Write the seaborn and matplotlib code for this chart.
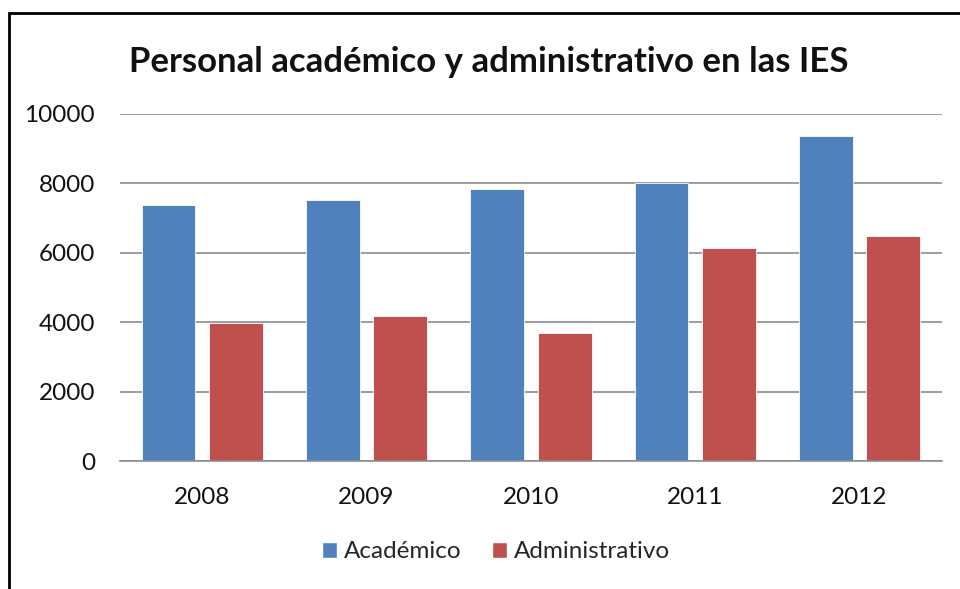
import numpy as np
import pandas as pd
import seaborn as sns
import matplotlib.pyplot as plt
from matplotlib.patches import Rectangle

years = ["2008", "2009", "2010", "2011", "2012"]
academico = [7380, 7530, 7830, 8010, 9370]
administrativo = [3970, 4180, 3700, 6140, 6480]
series = ["Académico", "Administrativo"]
colors = ["#4F81BD", "#C0504D"]

df = pd.DataFrame({
    "year": years * 2,
    "value": academico + administrativo,
    "serie": [series[0]] * 5 + [series[1]] * 5,
})

sns.set_style("white")
plt.rcParams['font.family'] = ['Lato', 'DejaVu Sans']

fig = plt.figure(figsize=(9.6, 5.89), dpi=100)
ax = fig.add_axes([0.125, 0.2173, 0.856, 0.5892])

sns.barplot(data=df, x="year", y="value", hue="serie", palette=colors,
            saturation=1, width=0.82, gap=0.2, edgecolor="white", linewidth=0.6,
            legend=False, ax=ax)

ax.set_ylim(0, 10000)
ax.set_yticks(range(0, 10001, 2000))
ax.yaxis.grid(True, color="#8c8c8c", linewidth=1.2)
ax.set_axisbelow(True)
for s in ["top", "right", "left"]:
    ax.spines[s].set_visible(False)
ax.spines["bottom"].set_color("#8c8c8c")
ax.spines["bottom"].set_linewidth(1.2)
ax.tick_params(axis="both", length=0, labelsize=17.5, colors="#111111")
ax.tick_params(axis="y", pad=18)
ax.tick_params(axis="x", pad=19)
ax.set_xlabel("")
ax.set_ylabel("")

fig.text(0.509, 0.895, "Personal académico y administrativo en las IES",
         ha="center", va="center", fontsize=25, fontweight="bold", color="#111111")

handles = [Rectangle((0, 0), 1, 1, facecolor=c, edgecolor="white") for c in colors]
fig.legend(handles, series, loc="center", bbox_to_anchor=(0.517, 0.063), ncol=2,
           frameon=False, fontsize=17.5, handlelength=0.6, handleheight=0.6,
           handletextpad=0.3, columnspacing=1.25)

# outer chart frame (only left and top edges visible)
fig.patches.append(Rectangle((0.0094, -0.2), 1.5, 0.2 + 0.978, transform=fig.transFigure,
                             fill=False, edgecolor="black", linewidth=2, clip_on=False))

fig.savefig("out.png", dpi=100)
